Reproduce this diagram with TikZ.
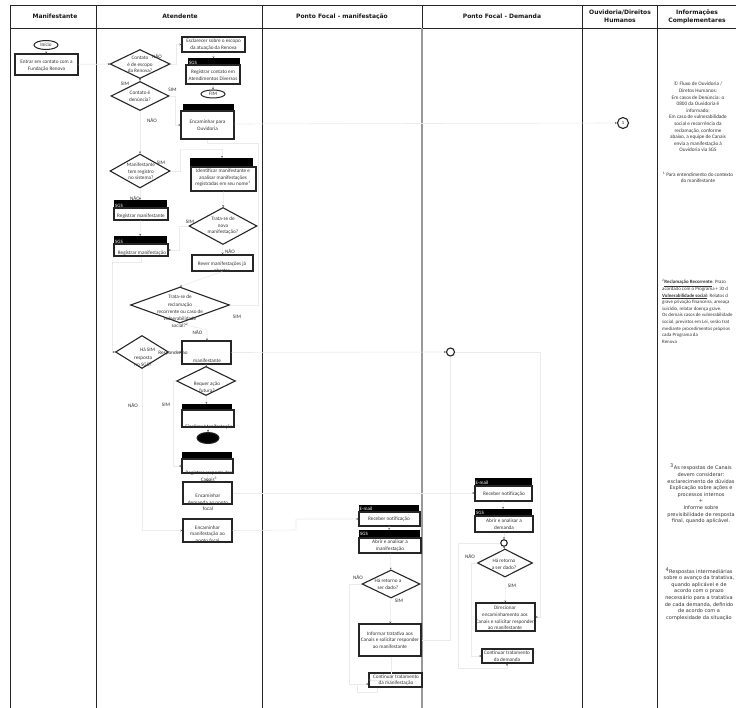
\documentclass[tikz,border=0pt]{standalone}
\usepackage{fontspec}
\setmainfont{Carlito}
\newfontfamily\djv{DejaVu Sans}
\usetikzlibrary{shapes.geometric,fit,arrows.meta}
\definecolor{ink}{gray}{0.2}
\definecolor{wire}{gray}{0.92}
\tikzset{
  lane/.style={draw=black!85,line width=0.7pt},
  lanewide/.style={draw=black!40,line width=1.2pt},
  box/.style={draw=black!85,line width=1.1pt,fill=white,inner sep=0pt},
  bar/.style={fill=black,draw=black,line width=0.3pt,inner sep=0pt},
  dia/.style={diamond,draw=black!85,line width=1.1pt,fill=white,inner sep=0pt,aspect=2},
  oval/.style={ellipse,draw=black!85,line width=1pt,fill=white,inner sep=0pt},
  hdr/.style={font=\djv\bfseries\fontsize{6}{8}\selectfont,align=center,text=black!90,inner sep=0pt},
  txt/.style={font=\fontsize{5.2}{6.6}\selectfont,align=center,text=ink,inner sep=0pt},
  note/.style={font=\fontsize{5.2}{6.6}\selectfont,align=center,text=ink,inner sep=0pt},
  lnote/.style={font=\fontsize{4.9}{6.6}\selectfont,align=left,anchor=west,text=ink,inner sep=0pt},
  vnote/.style={font=\djv\fontsize{5}{6.65}\selectfont,align=center,text=ink,inner sep=0pt},
  tag/.style={font=\fontsize{5}{6}\selectfont,text=white,inner sep=0pt},
  conn/.style={draw=wire,line width=0.6pt,-{Stealth[length=2pt,width=2pt,color=black!65]}},
  plain/.style={draw=wire,line width=0.6pt},
}
\newcommand\Bx[6][box]{\node[#1,fit={(#3,#4)(#5,#6)}] (#2) {};}
\newcommand\Dm[5]{\node[dia,minimum width=#4pt,minimum height=#5pt] (#1) at (#2,#3) {};}
\begin{document}
\begin{tikzpicture}[x=1pt,y=-1pt]
\useasboundingbox[fill=white] (0,0) rectangle (736,708);
% lanes
\coordinate (tl) at (10,5); \coordinate (tr) at (736,5);
\coordinate (hl) at (10,28); \coordinate (hr) at (736,28);
\draw[lane] (tl) -- (tr);
\draw[lane] (hl) -- (hr);
\foreach \lx in {10,96,262.5,582,657.5} \draw[lane] (\lx,5) -- (\lx,708);
\draw[lanewide] (422,28) -- (422,708);
\draw[lane] (422,5) -- (422,28);
\node[hdr] (h1) at (55,16.5) {Manifestante};
\node[hdr] (h2) at (180,16.5) {Atendente};
\node[hdr] (h3) at (342,16.5) {Ponto Focal - manifestação};
\node[hdr] (h4) at (502,16.5) {Ponto Focal - Demanda};
\node[hdr] (h5) at (620,16.5) {Ouvidoria/Direitos\\Humanos};
\node[hdr] (h6) at (697,16.5) {Informações\\Complementares};

% shapes
\node[oval,minimum width=24pt,minimum height=9pt] (inicio) at (46,45) {};
\Bx{entrar}{15}{54}{78}{75}
\Dm{d1}{140}{64}{60}{29}
\Bx{escl}{182}{37}{245}{52}
\Bx[bar]{b1}{188}{58.5}{239}{66}
\Bx{regc}{186}{65}{240}{84}
\node[oval,minimum width=24pt,minimum height=8pt] (fim) at (213,94) {};
\Dm{d2}{140}{96}{58}{29}
\Bx[bar]{b2}{183}{104}{233}{112}
\Bx{ouv}{181}{111}{234}{139}
\Dm{d3}{140}{171}{60}{34}
\Bx[bar]{b3}{190}{158}{252}{167}
\Bx{ident}{191}{167}{256}{191}
\Dm{d4}{223}{226}{68}{37}
\Bx[bar]{b4}{114}{200}{166}{208}
\Bx{regm}{114}{208}{168}{220}
\Bx[bar]{b5}{114}{236}{166}{244}
\Bx{regf}{114}{244}{168}{256}
\Bx{rever}{192}{255}{253}{271}
\Dm{d5}{180}{305}{99}{36}
\Dm{d6}{142}{352}{53}{33}
\Bx{resp}{182}{341}{231}{364}
\Dm{d7}{206}{381}{59}{29}
\Bx[bar]{b6}{182}{404}{231}{411}
\Bx{fina}{182}{410}{234}{427}
\node[oval,fill=black,minimum width=22pt,minimum height=11pt] (fim2) at (208,438) {};
\Bx[bar]{b7}{182}{452}{231}{460}
\Bx{regr}{182}{459}{233}{473}
\Bx{encd}{183}{482}{232}{504}
\Bx{encm}{183}{519}{232}{542}
% Ponto focal manifestacao
\Bx[bar]{b8}{359}{505}{418}{512}
\Bx{rec1}{359}{512}{420}{526}
\Bx[bar]{b9}{359}{530}{419}{538}
\Bx{abr1}{359}{538}{421}{553}
\Dm{d8}{391}{584}{58}{28}
\Bx{info}{359}{624}{421}{656}
\Bx{cont1}{369}{673}{422}{687}
% Ponto focal demanda
\Bx[bar]{b10}{475}{478}{531}{486}
\Bx{rec2}{475}{486}{532}{501}
\Bx[bar]{b11}{475}{509}{531}{516}
\Bx{abr2}{475}{516}{533}{532}
\node[circle,draw=black!85,line width=1.1pt,minimum size=6.5pt,inner sep=0pt] (ring2) at (504,543) {};
\Dm{d9}{505}{563}{55}{28}
\Bx{dire}{476}{603}{535}{631}
\Bx{cont2}{482}{649}{533}{663}
\node[circle,draw=black!85,line width=1.1pt,minimum size=8pt,inner sep=0pt] (ring1) at (450.5,352) {};
\node[circle,draw=black!85,line width=1.1pt,minimum size=11pt,inner sep=0pt,font=\fontsize{4.5}{5}\selectfont] (conn1) at (623,123) {1};

% connectors
\draw[conn] (inicio) -- (entrar);
\draw[conn] (entrar) -- (d1);
\draw[conn] (d1.east) -- ++(6,0) |- (escl.west);
\draw[conn] (escl) -- (b1);
\draw[conn] (regc) -- (fim);
\draw[conn] (d1) -- (d2);
\draw[conn] (d2.east) -- ++(6,0) |- (ouv.west);
\draw[conn] (ouv.east |- 0,124) -- (conn1.west);
\draw[conn] (d2) -- (d3);
\draw[conn] (d3.east) -- ++(10,0) |- (180,149) -| (b3.north -| 222,0);
\draw[plain] (ouv.south) -- ++(0,4) -| (258,305) -- (d5.east);
\draw[conn] (ident) -- (d4);
\draw[conn] (d3) -- (b4);
\draw[conn] (regm) -- (b5);
\draw[conn] (d4.west) -- ++(-9,0) |- (regf.east);
\draw[conn] (d4) -- (rever);
\draw[conn] (rever.south) -- (d5.north);
\draw[conn] (regf.south) -- ++(0,6) -| (112,352) -- (d6.west);
\draw[conn] (d5.south) -- (207,330) -- (resp.north -| 207,0);
\draw[conn] (d6) -- (resp);
\draw[conn] (d6.south) |- (encm.west);
\draw[conn] (resp.east) -- (ring1.west);
\draw[conn] (resp) -- (d7);
\draw[conn] (d7) -- (b6);
\draw[conn] (d7.west) -- ++(-3,0) |- (regr.west);
\draw[conn] (fina) -- (fim2);
\draw[conn] (regr) -- (encd);
\draw[conn] (encd.east |- 0,493) -- (rec2.west |- 0,493);
\draw[conn] (encm.east) -- (296,530) -- (296,519) -- (rec1.west);
\draw[conn] (rec1) -- (b9);
\draw[conn] (abr1) -- (d8);
\draw[conn] (d8) -- (info);
\draw[conn] (info.south -| 391,0) -- (391,680) -- (cont1.west |- 0,680);
\draw[conn] (d8.west) -- ++(-12,0) |- (cont1.west |- 0,684);
\draw[plain] (cont1.south -| 377,0) -- (377,692) -- (357,692) -- (357,684);
\draw[plain] (info.east |- 0,640) -| (ring1.south);
\draw[conn] (ring1.east) -- (540,352) |- (dire.east);
\draw[conn] (rec2) -- (b11);
\draw[conn] (abr2) -- (ring2);
\draw[conn] (ring2) -- (d9);
\draw[conn] (d9) -- (dire);
\draw[conn] (d9.west) -- ++(-6,0) |- (cont2.west);
\draw[conn] (ring2.west) -- (458,543) |- (507,668) -- (cont2.south -| 507,0);

% texts
\node[txt] (t1) at (46,45) {Início};
\node[txt] (t2) at (46.5,65.5) {Entrar em contato com a\\Fundação Renova};
\node[txt] (t3) at (140,64.5) {Contato\\é de escopo\\da Renova?};
\node[txt] (t4) at (157,56) {NÃO};
\node[txt] (t5) at (213.5,44.5) {Esclarecer sobre o escopo\\da atuação da Renova};
\node[tag] (t6) at (193,62.5) {SGS};
\node[txt] (t7) at (213,75) {Registrar contato em\\Atendimentos Diversos};
\node[txt] (t8) at (213,94) {FIM};
\node[txt] (t9) at (125,84) {SIM};
\node[txt] (t10) at (172.5,90) {SIM};
\node[txt] (t11) at (140,96) {Contato é\\denúncia?};
\node[txt] (t12) at (152,120) {NÃO};
\node[txt] (t13) at (207.5,125.5) {Encaminhar para\\Ouvidoria};
\node[txt] (t14) at (141,171.5) {Manifestante\\tem registro\\no sistema?};
\node[txt] (t15) at (161,162.5) {SIM};
\node[txt] (t16) at (223,178) {Identificar manifestante e\\analisar manifestações\\registradas em seu nome\textsuperscript{1}};
\node[txt] (t17) at (135,198) {NÃO};
\node[tag] (t18) at (119,206) {SGS};
\node[txt] (t19) at (141,216) {Registrar manifestante};
\node[txt] (t20) at (223,226) {Trata-se de\\nova\\manifestação?};
\node[txt] (t21) at (190,222) {SIM};
\node[txt] (t22) at (230,251) {NÃO};
\node[tag] (t23) at (119,242) {SGS};
\node[txt] (t24) at (142,253) {Registrar manifestação};
\node[txt] (t25) at (222,267.5) {Rever manifestações já\\abertas};
\node[txt,font=\fontsize{5.2}{7.2}\selectfont] (t26) at (180,311.5) {Trata-se de\\reclamação\\recorrente ou caso de\\vulnerabilidade\\social?\textsuperscript{2}};
\node[txt] (t27) at (237,316.5) {SIM};
\node[txt] (t28) at (197.5,332) {NÃO};
\node[txt] (t29) at (143,350) {Há};
\node[txt] (t30) at (151,350) {SIM};
\node[txt,font=\fontsize{5.2}{7.4}\selectfont] (t31) at (143,361.5) {resposta\\no SGS?};
\node[txt] (t32) at (173,353) {Responder ao};
\node[txt] (t33) at (207,361) {manifestante};
\node[txt] (t34) at (207,387) {Requer ação\\futura?};
\node[txt] (t35) at (133,405) {NÃO};
\node[txt] (t36) at (166,405) {SIM};
\node[txt] (t37) at (209,427) {Finalizar Manifestação};
\node[txt] (t38) at (209,476) {Registrar resposta dos\\Canais\textsuperscript{3}};
\node[txt] (t39) at (208,502.5) {Encaminhar\\demanda ao ponto\\focal};
\node[txt] (t40) at (207.5,534.5) {Encaminhar\\manifestação ao\\ponto focal};
\node[tag] (t41) at (366,509) {E-mail};
\node[txt] (t42) at (389,519.5) {Receber notificação};
\node[tag] (t43) at (364,534) {SGS};
\node[txt] (t44) at (390,545.5) {Abrir e analisar a\\manifestação};
\node[txt] (t45) at (358,577) {NÃO};
\node[txt] (t46) at (388,584) {Há retorno a\\ser dado?};
\node[txt] (t47) at (399,601) {SIM};
\node[txt] (t48) at (390,640) {Informar tratativa aos\\Canais e solicitar responder\\ao manifestante};
\node[txt] (t49) at (396,680) {Continuar tratamento\\da manifestação};
\node[tag] (t50) at (482,483) {E-mail};
\node[txt] (t51) at (504,494) {Receber notificação};
\node[tag] (t52) at (480,513) {SGS};
\node[txt] (t53) at (504,524) {Abrir e analisar a\\demanda};
\node[txt] (t54) at (470,556) {NÃO};
\node[txt] (t55) at (504,564) {Há retorno\\a ser dado?};
\node[txt] (t56) at (512,586) {SIM};
\node[txt] (t57) at (505,618) {Direcionar\\encaminhamento aos\\Canais e solicitar responder\\ao manifestante};
\node[txt] (t58) at (507,656) {Continuar tratamento\\da demanda};
% notes
\node[note] (n1) at (698,117) {{\djv ①} Fluxo de Ouvidoria /\\Diretos Humanos:\\Em casos de Denúncia: o\\0800 da Ouvidoria é\\informado;\\Em caso de vulnerabilidade\\social e recorrência da\\reclamação, conforme\\abaixo, a equipe de Canais\\envia a manifestação à\\Ouvidoria via SGS};
\node[note] (n2) at (698,177.5) {\textsuperscript{1} Para entendimento do contexto\\do manifestante};
\node[lnote] (n3) at (662,311.5) {\textsuperscript{2}\textbf{\underline{Reclamação Recorrente}}: Prazo\\acordado com o Programa + 30 d\\\textbf{\underline{Vulnerabilidade social}}: Relatos d\\grave privação financeira, ameaça\\suicídio, relatar doença grave.\\Os demais casos de vulnerabilidade\\social, previstos em Lei, serão trat\\mediante procedimentos próprios\\cada Programa da\\Renova};
\node[vnote] (n4) at (701,494) {\textsuperscript{3}As respostas de Canais\\devem considerar:\\esclarecimento de dúvidas\\Explicação sobre ações e\\processos internos\\+\\Informe sobre\\previsibilidade de resposta\\final, quando aplicável.};
\node[vnote] (n5) at (699,594) {\textsuperscript{4}Respostas intermediárias\\sobre o avanço da tratativa,\\quando aplicável e de\\acordo com o prazo\\necessário para a tratativa\\de cada demanda, definido\\de acordo com a\\complexidade da situação};
\end{tikzpicture}
\end{document}
